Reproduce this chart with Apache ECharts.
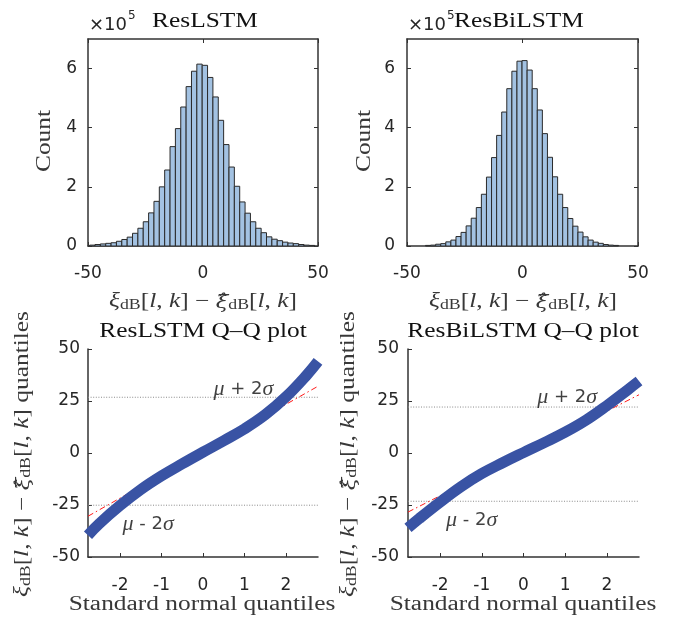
<!DOCTYPE html>
<html>
<head>
<meta charset="utf-8">
<script src="https://cdn.jsdelivr.net/npm/echarts@6/dist/echarts.min.js"></script>
<style>
  html, body { margin: 0; padding: 0; background: #fff; }
  #chart { width: 674px; height: 617px; }
</style>
</head>
<body>
<div id="chart"></div>
<script>
// histogram counts (x 1e5), read left to right
const lstmBinStart = -49.28
const lstmBinWidth = 2.33
const lstmCounts = [0.03, 0.05, 0.07, 0.09, 0.11, 0.16, 0.22, 0.30, 0.43, 0.60, 0.82, 1.12, 1.51, 2.00, 2.57, 3.36, 3.97, 4.70, 5.39, 5.91, 6.15,
    6.11, 5.70, 5.04, 4.25, 3.43, 2.67, 2.02, 1.49, 1.11, 0.82, 0.60, 0.45, 0.31, 0.23, 0.18, 0.13, 0.10, 0.08, 0.05, 0.03, 0.02]
const bilstmBinStart = -42.0
const bilstmBinWidth = 2.2
const bilstmCounts = [0.02, 0.03, 0.06, 0.08, 0.14, 0.20, 0.32, 0.46, 0.68, 0.94, 1.30, 1.75, 2.33, 2.99, 3.74, 4.53, 5.32, 5.91, 6.25,
    6.27, 5.95, 5.32, 4.60, 3.80, 3.00, 2.34, 1.75, 1.30, 0.93, 0.67, 0.47, 0.31, 0.20, 0.13, 0.09, 0.05, 0.03, 0.02]

// Q-Q curves
const qqX = [-2.77, -2.5, -2, -1.5, -1, -0.5, 0, 0.5, 1, 1.5, 2, 2.5, 2.77]
const lstmQQ = [-39.5, -34.0, -25.3, -17.6, -11.0, -5.2, 0.4, 5.9, 11.6, 18.4, 27.0, 37.5, 44.0]
const bilstmQQ = [-36.0, -31.5, -23.6, -16.2, -9.9, -4.7, 0.2, 5.0, 10.0, 15.8, 22.8, 30.4, 34.6]
const qqRange = [-2.77, 2.77]
const lstmFit = [-30.4, 32.1]
const bilstmFit = [-28.4, 28.0]
const lstmBand = [26.8, -25.1]   // mu + 2 sigma, mu - 2 sigma
const bilstmBand = [22.1, -23.2]

// ticks
const histYTicks = [0, 2, 4, 6]
const qqXTicks = [-2, -1, 0, 1, 2]

const AXIS = '#333333'
const tickFont = { fontFamily: 'DejaVu Sans', fontSize: 17, color: '#262626' }

const histData = (start, width, counts) => counts.map((c, i) => [start + i * width, start + (i + 1) * width, c])

const renderBar = (params, api) => {
    const a = api.coord([api.value(0), api.value(2)])
    const b = api.coord([api.value(1), 0])
    return {
        type: 'rect',
        shape: { x: a[0], y: a[1], width: b[0] - a[0], height: b[1] - a[1] },
        style: { fill: '#a3c2e2', stroke: '#2a2a2a', lineWidth: 1 }
    }
}

const histX = (grid, top) => ({
    gridIndex: grid, type: 'value', min: -50, max: 50, interval: 50,
    position: top ? 'top' : 'bottom',
    axisLine: { show: true, onZero: false, lineStyle: { color: AXIS, width: 1.5 } },
    axisTick: { show: true, inside: true, length: 4, lineStyle: { color: AXIS } },
    axisLabel: Object.assign({ show: !top, margin: 19 }, tickFont),
    splitLine: { show: false }
})
const histY = (grid, right, margin) => ({
    gridIndex: grid, type: 'value', min: 0, max: 7,
    position: right ? 'right' : 'left',
    axisLine: { show: true, onZero: false, lineStyle: { color: AXIS, width: 1.5 } },
    axisTick: { show: true, inside: true, length: 4, customValues: histYTicks, lineStyle: { color: AXIS } },
    axisLabel: Object.assign({ show: !right, margin: margin, customValues: histYTicks }, tickFont),
    splitLine: { show: false }
})
const qqXAxis = (grid) => ({
    gridIndex: grid, type: 'value', min: qqRange[0], max: qqRange[1],
    axisLine: { show: true, onZero: false, lineStyle: { color: AXIS, width: 1.5 } },
    axisTick: { show: true, inside: true, length: 4, customValues: qqXTicks, lineStyle: { color: AXIS } },
    axisLabel: Object.assign({ margin: 20, customValues: qqXTicks }, tickFont),
    splitLine: { show: false }
})
const qqYAxis = (grid, margin) => ({
    gridIndex: grid, type: 'value', min: -50, max: 50, interval: 25,
    axisLine: { show: true, onZero: false, lineStyle: { color: AXIS, width: 1.5 } },
    axisTick: { show: true, inside: true, length: 4, lineStyle: { color: AXIS } },
    axisLabel: Object.assign({ margin: margin }, tickFont),
    splitLine: { show: false }
})

const sigmaLabel = (x, y, sign) => ({
    type: 'scatter', symbolSize: 0, silent: true,
    data: [[x, y]],
    label: {
        show: true, position: 'right', distance: 0,
        formatter: '{g|μ}{n| ' + sign + ' 2}{g|σ}',
        rich: {
            g: { fontFamily: 'Liberation Serif', fontStyle: 'italic', fontSize: 22, color: '#111' },
            n: { fontFamily: 'DejaVu Sans', fontSize: 18, color: '#111' }
        }
    }
})

const qqSeries = (grid, ys, fit, band, labels) => {
    const s = []
    band.forEach(v => s.push({
        type: 'line', xAxisIndex: grid, yAxisIndex: grid, symbol: 'none', silent: true, z: 1,
        data: [[qqRange[0], v], [qqRange[1], v]],
        lineStyle: { color: '#8a8a8a', width: 1, type: [1, 1.6] }
    }))
    s.push({
        type: 'line', xAxisIndex: grid, yAxisIndex: grid, symbol: 'none', silent: true, z: 2,
        data: [[qqRange[0], fit[0]], [qqRange[1], fit[1]]],
        lineStyle: { color: '#ff1a1a', width: 1, type: [6, 3, 1.5, 3] }
    })
    s.push({
        type: 'line', xAxisIndex: grid, yAxisIndex: grid, symbol: 'none', silent: true, z: 3,
        smooth: 0.4, clip: false,
        data: qqX.map((x, i) => [x, ys[i]]),
        lineStyle: { color: '#3953a4', width: 11, cap: 'butt' }
    })
    labels.forEach(l => {
        const lab = sigmaLabel(l[0], l[1], l[2])
        lab.xAxisIndex = grid
        lab.yAxisIndex = grid
        s.push(lab)
    })
    return s
}

// serif texts (titles, axis names)
const SX = 1.27
const serif = { fontFamily: 'Liberation Serif', fontSize: 20, fill: '#383838', lineHeight: 26, verticalAlign: 'bottom' }
const rich = {
    r: serif,
    i: Object.assign({}, serif, { fontStyle: 'italic' }),
    h: Object.assign({}, serif, { fontFamily: 'DejaVu Serif', fontStyle: 'italic', fontSize: 18 }),
    s: { fontFamily: 'Liberation Serif', fontSize: 14, fill: '#383838', lineHeight: 14, verticalAlign: 'bottom' }
}
const errName = '{i|ξ}{s|dB}{r|[}{i|l}{r|, }{i|k}{r|] − }{h|ξ̂}{s|dB}{r|[}{i|l}{r|, }{i|k}{r|]}'

const serifText = (text, x, y, opts) => Object.assign({
    type: 'text', x: x, y: y, scaleX: SX, silent: true,
    style: { text: text, rich: rich, align: 'center', verticalAlign: 'middle' }
}, opts || {})
const plainText = (text, x, y, size, color, opts) => Object.assign({
    type: 'text', x: x, y: y, scaleX: SX, silent: true,
    style: { text: text, fontFamily: 'Liberation Serif', fontSize: size, fill: color, align: 'center', verticalAlign: 'middle' }
}, opts || {})
const upright = { rotation: Math.PI / 2 }

const graphics = [
    plainText('ResLSTM', 205, 22, 20, '#111'),
    plainText('ResBiLSTM', 519, 22, 20, '#111'),
    plainText('ResLSTM Q–Q plot', 203, 332, 20, '#111'),
    plainText('ResBiLSTM Q–Q plot', 523, 332, 20, '#111'),
    plainText('Count', 45, 141, 20, '#383838', upright),
    plainText('Count', 365, 141, 20, '#383838', upright),
    plainText('Standard normal quantiles', 202, 605, 20, '#383838'),
    plainText('Standard normal quantiles', 523, 605, 20, '#383838'),
    serifText(errName, 203, 299),
    serifText(errName, 523, 299),
    serifText(errName + '{r| quantiles}', 20, 454, upright),
    serifText(errName + '{r| quantiles}', 346, 454, upright),
    { type: 'text', x: 89, y: 25, silent: true, style: { text: '×10', fontFamily: 'DejaVu Sans', fontSize: 18, fill: '#262626', align: 'left', verticalAlign: 'middle' } },
    { type: 'text', x: 128, y: 16, silent: true, style: { text: '5', fontFamily: 'DejaVu Sans', fontSize: 12, fill: '#262626', align: 'left', verticalAlign: 'middle' } },
    { type: 'text', x: 408, y: 25, silent: true, style: { text: '×10', fontFamily: 'DejaVu Sans', fontSize: 18, fill: '#262626', align: 'left', verticalAlign: 'middle' } },
    { type: 'text', x: 447, y: 16, silent: true, style: { text: '5', fontFamily: 'DejaVu Sans', fontSize: 12, fill: '#262626', align: 'left', verticalAlign: 'middle' } }
]

const chart = echarts.init(document.getElementById('chart'), null, { renderer: 'canvas' })
const option = {
    backgroundColor: '#fff',
    animation: false,
    grid: [
        { left: 88, top: 39, width: 230, height: 207 },
        { left: 407, top: 39, width: 231, height: 207 },
        { left: 88, top: 349, width: 230, height: 208 },
        { left: 408, top: 349, width: 231, height: 208 }
    ],
    xAxis: [histX(0, false), histX(0, true), histX(1, false), histX(1, true), qqXAxis(2), qqXAxis(3)],
    yAxis: [histY(0, false, 11), histY(0, true), histY(1, false, 12), histY(1, true), qqYAxis(2, 8), qqYAxis(3, 9)],
    series: [
        { type: 'custom', xAxisIndex: 0, yAxisIndex: 0, renderItem: renderBar, encode: { x: [0, 1], y: 2 }, data: histData(lstmBinStart, lstmBinWidth, lstmCounts) },
        { type: 'custom', xAxisIndex: 2, yAxisIndex: 2, renderItem: renderBar, encode: { x: [0, 1], y: 2 }, data: histData(bilstmBinStart, bilstmBinWidth, bilstmCounts) },
        ...qqSeries(4, lstmQQ, lstmFit, lstmBand, [[0.25, 30.5, '+'], [-1.94, -34.3, '-']]),
        ...qqSeries(5, bilstmQQ, bilstmFit, bilstmBand, [[0.33, 26.6, '+'], [-1.86, -32.4, '-']])
    ],
    graphic: graphics
}
chart.setOption(option)
</script>
</body>
</html>
